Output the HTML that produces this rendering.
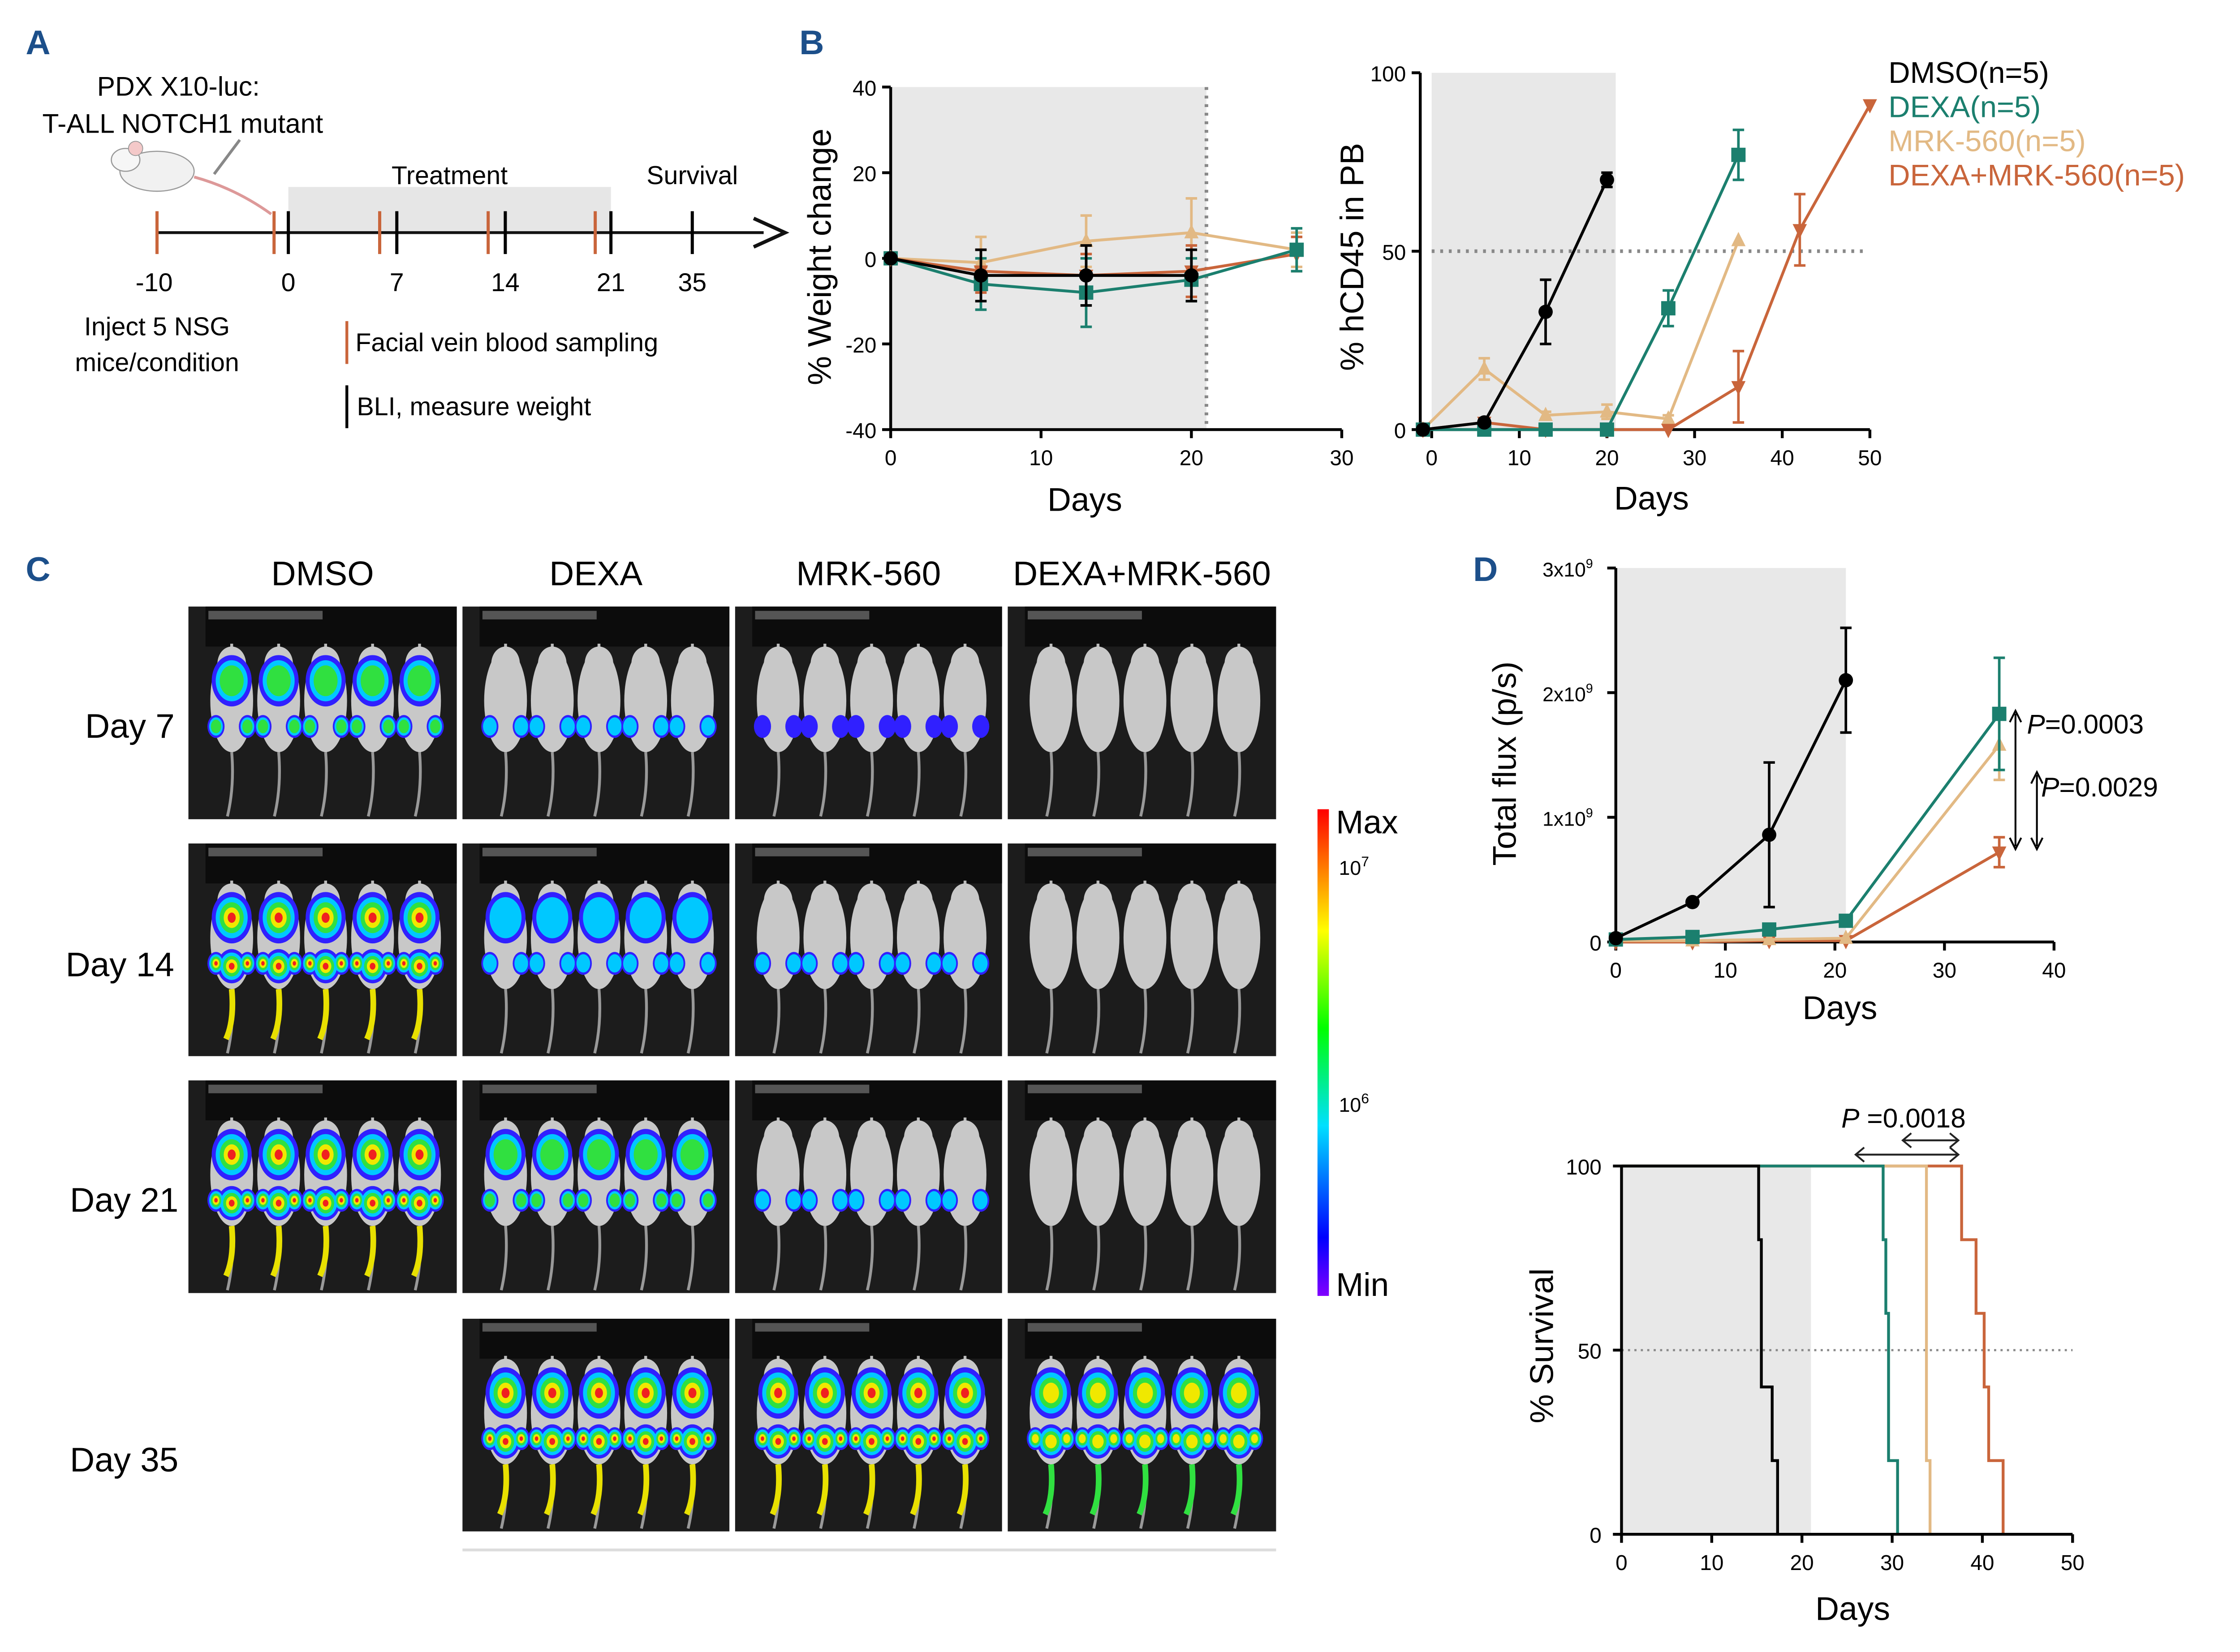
<!DOCTYPE html>
<html><head><meta charset="utf-8"><style>
html,body{margin:0;padding:0;background:#fff}
svg{display:block;font-family:"Liberation Sans",Arial,sans-serif}
</style></head><body>
<svg id="fig" width="5015" height="3688" viewBox="0 0 1574 1157.5" preserveAspectRatio="none" xmlns="http://www.w3.org/2000/svg">
<g id="root"></g>
</svg>
<script>
// ---------- data ----------
const groups = ["DMSO(n=5)","DEXA(n=5)","MRK-560(n=5)","DEXA+MRK-560(n=5)"];
const colors = ["#000000","#1b7f6e","#e2b984","#c9653b"];
// weight change
const wDays = [[0,6,13,20],[0,6,13,20,27],[0,6,13,20,27],[0,6,13,20,27]];
const wVals = [[0,-4,-4,-4],[0,-6,-8,-5,2],[0,-1,4,6,2],[0,-3,-4,-3,1]];
const wErr  = [[0,6,7,6],[0,6,8,5,5],[0,6,6,8,4],[0,5,5,6,4]];
// hCD45
const cDays = [[-1,6,13,20],[-1,6,13,20,27,35],[-1,6,13,20,27,35],[-1,6,13,20,27,35,42,50]];
const cVals = [[0,2,33,70],[0,0,0,0,34,77],[0,17,4,5,3,53],[0,2,0,0,0,12,56,91]];
const cErr  = [[0,1,9,2],[0,0,0,0,5,7],[0,3,1,2,1,0],[0,0,0,0,0,10,10,0]];
// total flux (x1e9)
const fDays = [[0,7,14,21],[0,7,14,21,35],[0,7,14,21,35],[0,7,14,21,35]];
const fVals = [[0.03,0.32,0.86,2.1],[0.02,0.04,0.1,0.17,1.83],[0.01,0.01,0.02,0.03,1.58],[0.0,0.0,0.01,0.01,0.72]];
const fErr  = [[0,0.02,0.58,0.42],[0,0.01,0.03,0.03,0.45],[0,0,0,0,0.28],[0,0,0,0,0.12]];
// survival step times and levels
const sTimes = [[15.2,15.5,16.7,17.3],[29.0,29.3,29.6,30.6],[33.8,34.2],[37.7,39.3,40.2,40.7,42.3]];
const sLevels = [[80,40,20,0],[80,60,20,0],[20,0],[80,60,40,20,0]];
// BLI heat levels (rows: day7, day14, day21, day35; cols: DMSO, DEXA, MRK, combo)
const bliRows = ["Day 7","Day 14","Day 21","Day 35"];
const bliCols = ["DMSO","DEXA","MRK-560","DEXA+MRK-560"];
const bliLevels = [[2.5,1,0.4,0],[4,1.6,1,0],[4.6,2,1.2,0],[-1,4,4,3.4]];

const NS="http://www.w3.org/2000/svg";
const root=document.getElementById('root');
function el(tag,attrs,parent,txt){const e=document.createElementNS(NS,tag);for(const k in attrs)e.setAttribute(k,attrs[k]);if(txt!==undefined)e.textContent=txt;(parent||root).appendChild(e);return e;}
function txt(x,y,s,size,opt,parent){opt=opt||{};const e=el('text',Object.assign({x:x,y:y,'font-size':size,fill:opt.fill||'#000','text-anchor':opt.anchor||'start'},opt.extra||{}),parent,s);return e;}

// Panel labels
[["A",18,38],["B",560,38],["C",18,407],["D",1032,407]].forEach(p=>{
 const t=txt(p[1],p[2],p[0],24,{fill:'#1c4f8a',extra:{'font-weight':'bold'}});
 
 
});

// ---------- Panel A ----------
const gA=el('g',{});

txt(125,67,"PDX X10-luc:",19,{anchor:'middle'},gA);
txt(128,93,"T-ALL NOTCH1 mutant",19,{anchor:'middle'},gA);
el('ellipse',{cx:110,cy:120,rx:26,ry:14,fill:'#f1f1f1',stroke:'#999','stroke-width':0.8},gA);
el('ellipse',{cx:88,cy:112,rx:10,ry:8,fill:'#f6f6f6',stroke:'#999','stroke-width':0.8},gA);
el('circle',{cx:95,cy:104,r:5,fill:'#f4c9c9',stroke:'#999','stroke-width':0.6},gA);
el('path',{d:'M136 124 Q165 132 190 150',fill:'none',stroke:'#d99','stroke-width':2},gA);
el('line',{x1:150,y1:122,x2:168,y2:98,stroke:'#888','stroke-width':2},gA);
el('rect',{x:202,y:131,width:226,height:32,fill:'#e6e6e6'},gA);
txt(315,129,"Treatment",18,{anchor:'middle'},gA);
txt(485,129,"Survival",18,{anchor:'middle'},gA);
el('line',{x1:110,y1:163,x2:535,y2:163,stroke:'#111','stroke-width':2},gA);
el('path',{d:'M528 153 L550 163 L528 173',fill:'none',stroke:'#111','stroke-width':2.5},gA);
[[110,'#c9653b'],[192,'#c9653b'],[266,'#c9653b'],[342,'#c9653b'],[417,'#c9653b'],[202,'#000'],[278,'#000'],[354,'#000'],[428,'#000'],[485,'#000']].forEach(t=>{
 el('line',{x1:t[0],y1:148,x2:t[0],y2:178,stroke:t[1],'stroke-width':2.2},gA);});
[["-10",108],["0",202],["7",278],["14",354],["21",428],["35",485]].forEach(t=>txt(t[1],204,t[0],18,{anchor:'middle'},gA));
txt(110,235,"Inject 5 NSG",18,{anchor:'middle'},gA);
txt(110,260,"mice/condition",18,{anchor:'middle'},gA);
el('line',{x1:243,y1:225,x2:243,y2:255,stroke:'#c9653b','stroke-width':2},gA);
txt(249,246,"Facial vein blood sampling",18,{},gA);
el('line',{x1:243,y1:270,x2:243,y2:300,stroke:'#000','stroke-width':2},gA);
txt(250,291,"BLI, measure weight",18,{},gA);

// ---------- generic chart helpers ----------
function marker(g,i,x,y,s){
 let m;
 if(i===0) m=el('circle',{cx:x,cy:y,r:s,fill:colors[i]},g);
 else if(i===1) m=el('rect',{x:x-s,y:y-s,width:2*s,height:2*s,fill:colors[i]},g);
 else if(i===2) m=el('path',{d:`M${x} ${y-s*1.2} L${x+s} ${y+s*0.8} L${x-s} ${y+s*0.8}Z`,fill:colors[i]},g);
 else m=el('path',{d:`M${x} ${y+s*1.2} L${x+s} ${y-s*0.8} L${x-s} ${y-s*0.8}Z`,fill:colors[i]},g);
 
 
}
function series(g,xs,ys,es,sx,sy,i,ms){
 const pts=xs.map((d,k)=>sx(d)+','+sy(ys[k])).join(' ');
 const pl=el('polyline',{points:pts,fill:'none',stroke:colors[i],'stroke-width':2},g);
 
 
 xs.forEach((d,k)=>{
  const e=es[k];
  if(e>0){const x=sx(d),y1=sy(ys[k]+e),y2=sy(ys[k]-e);
   el('path',{d:`M${x} ${y1} L${x} ${y2} M${x-4} ${y1} L${x+4} ${y1} M${x-4} ${y2} L${x+4} ${y2}`,stroke:colors[i],'stroke-width':1.8,fill:'none'},g);}
  marker(g,i,sx(d),sy(ys[k]),ms);
 });
}

// ---------- Panel B left: weight ----------
(function(){
 const g=el('g',{});
 const x0=624,x1=940,y0=301,y1=61;
 const sx=d=>x0+(d-0)/30*(x1-x0), sy=v=>y0-(v+40)/80*(y0-y1);
 el('rect',{x:x0,y:y1,width:sx(21)-x0,height:y0-y1,fill:'#e8e8e8'},g);
 el('line',{x1:sx(21),y1:y1,x2:sx(21),y2:y0,stroke:'#888','stroke-width':2.5,'stroke-dasharray':'2,4'},g);
 el('line',{x1:x0,y1:y1,x2:x0,y2:y0,stroke:'#000','stroke-width':2},g);
 el('line',{x1:x0,y1:y0,x2:x1,y2:y0,stroke:'#000','stroke-width':2},g);
 [-40,-20,0,20,40].forEach(v=>{el('line',{x1:x0-6,y1:sy(v),x2:x0,y2:sy(v),stroke:'#000','stroke-width':2},g);txt(x0-10,sy(v)+6,String(v),15,{anchor:'end'},g);});
 [0,10,20,30].forEach(d=>{el('line',{x1:sx(d),y1:y0,x2:sx(d),y2:y0+6,stroke:'#000','stroke-width':2},g);txt(sx(d),y0+25,String(d),15,{anchor:'middle'},g);});
 txt(760,358,"Days",23,{anchor:'middle'},g);
 txt(0,0,"% Weight change",23,{anchor:'middle',extra:{transform:'translate(582,180) rotate(-90)'}},g);
 [2,3,1,0].forEach(i=>series(g,wDays[i],wVals[i],wErr[i],sx,sy,i,5));
})();

// ---------- Panel B right: hCD45 ----------
(function(){
 const g=el('g',{});
 const x0=1003,x1=1310,y0=301,y1=51;
 const sx=d=>x0+d/50*(x1-x0), sy=v=>y0-v/100*(y0-y1);
 el('rect',{x:x0,y:y1,width:sx(21)-x0,height:y0-y1,fill:'#e8e8e8'},g);
 el('line',{x1:x0,y1:sy(50),x2:1305,y2:sy(50),stroke:'#888','stroke-width':2.5,'stroke-dasharray':'2,4'},g);
 el('line',{x1:995,y1:y1,x2:995,y2:y0,stroke:'#000','stroke-width':2},g);
 el('line',{x1:995,y1:y0,x2:x1,y2:y0,stroke:'#000','stroke-width':2},g);
 [0,50,100].forEach(v=>{el('line',{x1:989,y1:sy(v),x2:995,y2:sy(v),stroke:'#000','stroke-width':2},g);txt(985,sy(v)+6,String(v),15,{anchor:'end'},g);});
 [0,10,20,30,40,50].forEach(d=>{el('line',{x1:sx(d),y1:y0,x2:sx(d),y2:y0+6,stroke:'#000','stroke-width':2},g);txt(sx(d),y0+25,String(d),15,{anchor:'middle'},g);});
 txt(1157,357,"Days",23,{anchor:'middle'},g);
 txt(0,0,"% hCD45 in PB",23,{anchor:'middle',extra:{transform:'translate(955,180) rotate(-90)'}},g);
 [2,3,1,0].forEach(i=>series(g,cDays[i],cVals[i],cErr[i],sx,sy,i,5));
 const lg=el('g',{});
 groups.forEach((s,i)=>{const t=txt(1323,58+i*24,s,21,{fill:colors[i]},lg);});
})();

// ---------- Panel C: BLI images ----------
(function(){
 const g=el('g',{});
 const cx=[132,324,515,706], cw=[188,187,187,188], ry=[425,591,757,924], rh=149;
 bliCols.forEach((c,j)=>txt(cx[j]+cw[j]/2,410,c,24,{anchor:'middle'},g));
 const rowLab=[[91,517],[84,684],[87,849],[87,1031]];
 bliRows.forEach((r,i)=>txt(rowLab[i][0],rowLab[i][1],r,24,{anchor:'middle'},g));
 const heat=['#3020ff','#00c8ff','#30e040','#f0e800','#f02020'];
 bliLevels.forEach((row,i)=>row.forEach((L,j)=>{
  if(L<0) return;
  const x=cx[j],y=ry[i],w=cw[j];
  const cell=el('g',{},g);
  
  
  el('rect',{x:x,y:y,width:w,height:rh,fill:'#1c1c1c'},cell);
  el('rect',{x:x+12,y:y,width:w-12,height:28,fill:'#0c0c0c'},cell);
  el('rect',{x:x+14,y:y+3,width:80,height:6,fill:'#555'},cell);
  for(let k=0;k<5;k++){
   const mx=x+w*(0.14+0.175*k)+4, my=y+66;
   el('line',{x1:mx,y1:y+26,x2:mx,y2:y+40,stroke:'#bbb','stroke-width':2},cell);
   el('path',{d:`M${mx} ${my+36} Q${mx+2} ${my+60} ${mx-3} ${y+rh-2}`,stroke:'#999','stroke-width':2,fill:'none'},cell);
   el('ellipse',{cx:mx,cy:my,rx:15,ry:36,fill:'#c8c8c8'},cell);
   el('ellipse',{cx:mx,cy:my-26,rx:10,ry:12,fill:'#c8c8c8'},cell);
   if(L>0){
    const lev=Math.min(4,Math.floor(L));
    for(let q=0;q<=lev;q++){
     const f=1-q*0.2;
     if(L>=1.5){el('ellipse',{cx:mx,cy:my-14,rx:14*f,ry:18*f,fill:heat[q]},cell);}
     el('ellipse',{cx:mx-11,cy:my+18,rx:6*f,ry:8*f,fill:heat[q]},cell);
     el('ellipse',{cx:mx+11,cy:my+18,rx:6*f,ry:8*f,fill:heat[q]},cell);
     if(L>=3) el('ellipse',{cx:mx,cy:my+20,rx:10*f,ry:12*f,fill:heat[q]},cell);
    }
    if(L>=2.5 && i>0){el('path',{d:`M${mx} ${my+36} Q${mx+2} ${my+58} ${mx-4} ${y+rh-12}`,stroke:L>=4?'#e8e000':'#30e040','stroke-width':4,fill:'none'},cell);}
   }
  }
 }));
 el('line',{x1:324,y1:1086,x2:894,y2:1086,stroke:'#ddd','stroke-width':2},g);
 const defs=el('defs',{});
 const lgd=el('linearGradient',{id:'cb',x1:0,y1:1,x2:0,y2:0},defs);
 [['0','#8000ff'],['0.12','#0000ff'],['0.35','#00e0ff'],['0.55','#00ff00'],['0.75','#ffff00'],['1','#ff0000']].forEach(s=>el('stop',{offset:s[0],'stop-color':s[1]},lgd));
 const cb=el('rect',{x:923,y:567,width:8,height:341,fill:'url(#cb)'},g);
 
 txt(936,584,"Max",23,{},g);
 txt(936,908,"Min",23,{},g);
 const t7=txt(938,613,"10",14,{},g);el('tspan',{dy:-6,'font-size':10},t7,"7");
 const t6=txt(938,779,"10",14,{},g);el('tspan',{dy:-6,'font-size':10},t6,"6");
})();

// ---------- Panel D top: flux ----------
(function(){
 const g=el('g',{});
 const x0=1132,x1=1439,y0=660,y1=398;
 const sx=d=>x0+d/40*(x1-x0), sy=v=>y0-v/3*(y0-y1);
 el('rect',{x:x0,y:y1,width:sx(21)-x0,height:y0-y1,fill:'#e8e8e8'},g);
 el('line',{x1:x0,y1:y1,x2:x0,y2:y0,stroke:'#000','stroke-width':2},g);
 el('line',{x1:x0,y1:y0,x2:x1,y2:y0,stroke:'#000','stroke-width':2},g);
 [0,1,2,3].forEach(v=>{el('line',{x1:x0-6,y1:sy(v),x2:x0,y2:sy(v),stroke:'#000','stroke-width':2},g);
  if(v===0) txt(x0-10,sy(v)+6,"0",15,{anchor:'end'},g);
  else {const t=txt(x0-16,sy(v)+6,v+"x10",14,{anchor:'end'},g);el('tspan',{dy:-6,'font-size':9},t,"9");}});
 [0,10,20,30,40].forEach(d=>{el('line',{x1:sx(d),y1:y0,x2:sx(d),y2:y0+6,stroke:'#000','stroke-width':2},g);txt(sx(d),y0+25,String(d),15,{anchor:'middle'},g);});
 txt(1289,714,"Days",23,{anchor:'middle'},g);
 txt(0,0,"Total flux (p/s)",23,{anchor:'middle',extra:{transform:'translate(1062,535) rotate(-90)'}},g);
 [3,2,1,0].forEach(i=>series(g,fDays[i],fVals[i],fErr[i],sx,sy,i,5));
 el('path',{d:'M1412 500 L1412 593 M1408 506 L1412 498 L1416 506 M1408 587 L1412 595 L1416 587',stroke:'#000','stroke-width':1.3,fill:'none'},g);
 el('path',{d:'M1427 543 L1427 593 M1423 549 L1427 541 L1431 549 M1423 587 L1427 595 L1431 587',stroke:'#000','stroke-width':1.3,fill:'none'},g);
 const p1=txt(1420,514,"",19,{},g);el('tspan',{'font-style':'italic'},p1,"P");el('tspan',{},p1,"=0.0003");
 const p2=txt(1430,558,"",19,{},g);el('tspan',{'font-style':'italic'},p2,"P");el('tspan',{},p2,"=0.0029");
})();

// ---------- Panel D bottom: survival ----------
(function(){
 const g=el('g',{});
 const x0=1136,x1=1452,y0=1075,y1=817;
 const sx=d=>x0+d/50*(x1-x0), sy=v=>y0-v/100*(y0-y1);
 el('rect',{x:x0,y:y1,width:sx(21)-x0,height:y0-y1,fill:'#e8e8e8'},g);
 el('line',{x1:x0,y1:sy(50),x2:x1,y2:sy(50),stroke:'#888','stroke-width':1.5,'stroke-dasharray':'1.5,3'},g);
 [3,2,1,0].forEach(i=>{
  let d=`M${x0} ${sy(100)}`;let lvl=100;
  sTimes[i].forEach((t,k)=>{d+=` L${sx(t)} ${sy(lvl)} L${sx(t)} ${sy(sLevels[i][k])}`;lvl=sLevels[i][k];});
  const p=el('path',{d:d,fill:'none',stroke:colors[i],'stroke-width':2},g);
  
  
 });
 el('line',{x1:x0,y1:y1,x2:x0,y2:y0,stroke:'#000','stroke-width':2},g);
 el('line',{x1:x0-6,y1:y0,x2:x1,y2:y0,stroke:'#000','stroke-width':2},g);
 [0,50,100].forEach(v=>{el('line',{x1:x0-6,y1:sy(v),x2:x0,y2:sy(v),stroke:'#000','stroke-width':2},g);txt(x0-14,sy(v)+6,String(v),15,{anchor:'end'},g);});
 [0,10,20,30,40,50].forEach(d=>{el('line',{x1:sx(d),y1:y0,x2:sx(d),y2:y0+6,stroke:'#000','stroke-width':2},g);txt(sx(d),y0+25,String(d),15,{anchor:'middle'},g);});
 txt(1298,1135,"Days",23,{anchor:'middle'},g);
 txt(0,0,"% Survival",23,{anchor:'middle',extra:{transform:'translate(1088,943) rotate(-90)'}},g);
 const pt=txt(1290,790,"",19,{},g);el('tspan',{'font-style':'italic'},pt,"P");el('tspan',{},pt," =0.0018");
 el('path',{d:'M1300 809 L1372 809 M1306 804 L1300 809 L1306 814 M1366 804 L1372 809 L1366 814',stroke:'#222','stroke-width':1.3,fill:'none'},g);
 el('path',{d:'M1333 799 L1372 799 M1339 794 L1333 799 L1339 804 M1366 794 L1372 799 L1366 804',stroke:'#222','stroke-width':1.3,fill:'none'},g);
})();
</script>
</body></html>
